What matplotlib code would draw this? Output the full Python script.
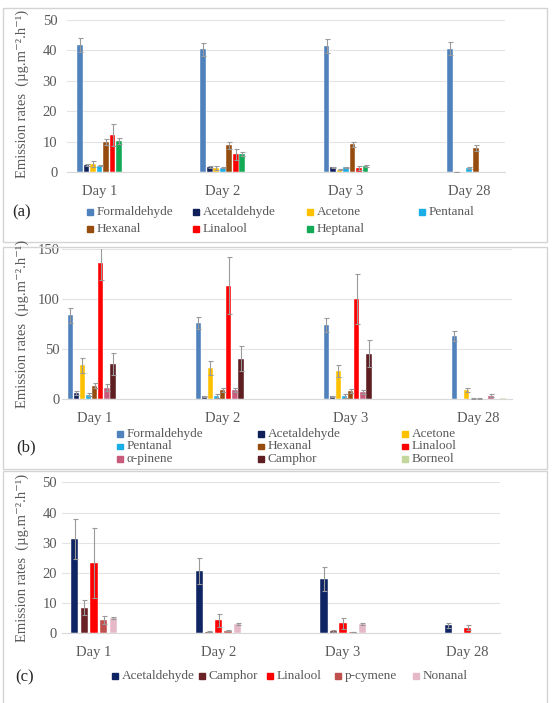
import matplotlib
matplotlib.use('Agg')
import matplotlib.pyplot as plt
from matplotlib.patches import Rectangle
import numpy as np

plt.rcParams['font.family'] = ['Liberation Serif', 'DejaVu Serif']

W, H = 552, 703
DAYS = ['Day 1', 'Day 2', 'Day 3', 'Day 28']
YLAB = 'Emission rates  (µg.m⁻².h⁻¹)'
GRAY = '#595959'

# ---- panel (a) ----
A_NAMES = ['Formaldehyde', 'Acetaldehyde', 'Acetone', 'Pentanal', 'Hexanal', 'Linalool', 'Heptanal']
A_COLS = ['#4f81bd', '#0f1f5a', '#ffc000', '#19aee6', '#974c0f', '#ff0000', '#12a957']
A_VAL = [[41.8, 40.4, 41.4, 40.5],
         [2.2, 1.6, 1.5, 0.1],
         [2.6, 1.3, 0.8, 0.0],
         [2.1, 1.4, 1.6, 1.3],
         [9.9, 8.8, 9.1, 8.0],
         [12.3, 5.8, 1.3, 0.0],
         [10.2, 6.0, 2.0, 0.0]]
A_ERR = [[2.2, 2.1, 2.2, 2.1],
         [0.3, 0.3, 0.2, 0.05],
         [0.9, 0.7, 0.3, 0.0],
         [0.2, 0.2, 0.2, 0.2],
         [1.1, 1.1, 0.9, 1.0],
         [3.6, 1.9, 0.6, 0.0],
         [1.1, 0.6, 0.4, 0.0]]

# ---- panel (b) ----
B_NAMES = ['Formaldehyde', 'Acetaldehyde', 'Acetone', 'Pentanal', 'Hexanal', 'Linalool',
           'α-pinene', 'Camphor', 'Borneol']
B_COLS = ['#4f81bd', '#0f1f5a', '#ffc000', '#19aee6', '#974c0f', '#ff0000',
          '#c85a7c', '#5e1e22', '#c3d69b']
B_VAL = [[84, 76, 74, 63],
         [6, 3, 3, 0],
         [34, 31.6, 28.3, 9],
         [4.5, 3.5, 3.5, 0.5],
         [13.6, 9.3, 8.3, 0.5],
         [136, 113.4, 100, 0],
         [11.6, 9, 7.6, 3.5],
         [35, 40.6, 45.5, 0],
         [0.5, 0.5, 0.5, 0.8]]
B_ERR = [[7.5, 6, 7, 5],
         [2, 0.5, 0.5, 0],
         [7.5, 7, 5.7, 2],
         [1.5, 2, 2, 0.3],
         [2.4, 2.2, 2.2, 0.3],
         [17, 28.3, 24.7, 0],
         [3.4, 2, 2, 1.5],
         [11, 12.4, 13.5, 0],
         [0, 0, 0, 0]]

# ---- panel (c) ----
C_NAMES = ['Acetaldehyde', 'Camphor', 'Linalool', 'p-cymene', 'Nonanal']
C_COLS = ['#0f2462', '#6b2226', '#ff0000', '#c0504d', '#e6b9c8']
C_VAL = [[31.2, 20.6, 18.0, 2.6],
         [8.5, 0.5, 0.7, 0.2],
         [23.2, 4.3, 3.3, 1.8],
         [4.4, 0.8, 0.4, 0.0],
         [5.0, 3.1, 3.1, 0.0]]
C_ERR = [[6.5, 4.2, 3.9, 0.7],
         [2.5, 0.1, 0.3, 0.0],
         [11.6, 2.1, 1.9, 0.8],
         [1.3, 0.2, 0.1, 0.0],
         [0.3, 0.2, 0.2, 0.0]]


def px_axes(fig, l, t, r, b):
    return fig.add_axes([l / W, 1 - b / H, (r - l) / W, (b - t) / H])


def panel(ax, vals, errs, cols, slot, width, ymax, ystep, xlim, ypad, xpad):
    x = np.arange(len(DAYS))
    n = len(vals)
    for i in range(n):
        off = (i - (n - 1) / 2) * slot
        ax.bar(x + off, vals[i], width, color=cols[i], edgecolor='white', lw=0.3, zorder=2)
        e = np.array(errs[i])
        m = e > 0
        if m.any():
            ax.errorbar((x + off)[m], np.array(vals[i])[m], yerr=e[m], fmt='none',
                        ecolor='#9a9a9a', elinewidth=0.8, capsize=1.8, capthick=0.8, zorder=3)
    ax.set_xlim(*xlim)
    ax.set_ylim(0, ymax)
    ax.set_yticks(np.arange(0, ymax + 1, ystep))
    ax.set_xticks(x)
    ax.set_xticklabels(DAYS)
    ax.yaxis.grid(True, color='#e3e3e3', lw=0.8, zorder=0)
    ax.set_axisbelow(True)
    for s in ['top', 'right', 'left']:
        ax.spines[s].set_visible(False)
    ax.spines['bottom'].set_color('#d9d9d9')
    ax.tick_params(axis='both', length=0, labelsize=10.5, labelcolor=GRAY)
    ax.tick_params(axis='y', pad=ypad)
    ax.tick_params(axis='x', pad=xpad)


def legend(fig, names, cols, pos, fs=9.5):
    for (name, col, (px, py)) in zip(names, cols, pos):
        fig.patches.append(Rectangle((px / W, 1 - (py + 2.8) / H), 5.5 / W, 5.5 / H,
                                     color=col, transform=fig.transFigure, figure=fig))
        fig.text((px + 9.5) / W, 1 - py / H, name, fontsize=fs, color=GRAY, va='center')


def box(fig, l, t, r, b):
    fig.patches.append(Rectangle((l / W, 1 - b / H), (r - l) / W, (b - t) / H, fill=False,
                                 ec='#d4d4d4', lw=1.0, transform=fig.transFigure, figure=fig))


fig = plt.figure(figsize=(W / 100, H / 100), dpi=100)
fig.patch.set_facecolor('white')

box(fig, 3, 8, 547, 242)
box(fig, 3, 247, 547, 469)
box(fig, 3, 471, 547, 710)

# (a)
ax = px_axes(fig, 67, 20, 505, 172)
panel(ax, A_VAL, A_ERR, A_COLS, 0.0527, 0.047, 50, 10, (-0.264, 3.29), 7, 9)
fig.text(22 / W, 1 - 94 / H, YLAB, rotation=90, fontsize=10.5, color=GRAY, ha='center', va='center')
fig.text(12 / W, 1 - 212 / H, '(a)', fontsize=12, color='#262626', va='center')
colx = [87, 193, 307, 419]
legend(fig, A_NAMES, A_COLS, [(colx[i % 4], 212 + 17 * (i // 4)) for i in range(len(A_NAMES))])

# (b)
ax = px_axes(fig, 62, 249, 512, 399.3)
panel(ax, B_VAL, B_ERR, B_COLS, 0.0477, 0.042, 150, 50, (-0.255, 3.26), 1.5, 9)
fig.text(22 / W, 1 - 324 / H, YLAB, rotation=90, fontsize=10.5, color=GRAY, ha='center', va='center')
fig.text(16 / W, 1 - 447 / H, '(b)', fontsize=12, color='#262626', va='center')
colx = [117, 258, 402]
legend(fig, B_NAMES, B_COLS, [(colx[i % 3], 434 + 12.5 * (i // 3)) for i in range(len(B_NAMES))])

# (c)
ax = px_axes(fig, 62, 482.3, 500, 633.3)
panel(ax, C_VAL, C_ERR, C_COLS, 0.077, 0.0585, 50, 10, (-0.257, 3.26), 3.5, 9)
fig.text(22 / W, 1 - 558 / H, YLAB, rotation=90, fontsize=10.5, color=GRAY, ha='center', va='center')
fig.text(15 / W, 1 - 677 / H, '(c)', fontsize=12, color='#262626', va='center')
legend(fig, C_NAMES, C_COLS, [(112, 676), (199, 676), (267, 676), (335, 676), (413, 676)])

fig.savefig('out.png', dpi=100)
